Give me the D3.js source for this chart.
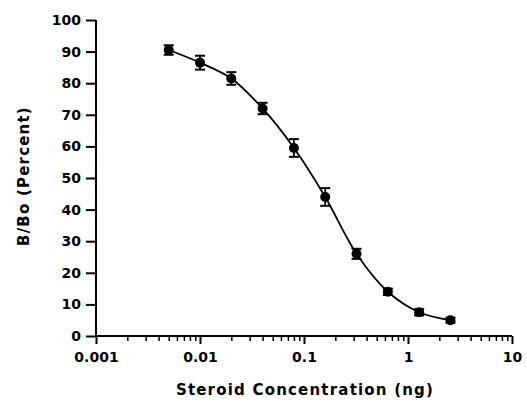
<!DOCTYPE html>
<html>
<head>
<meta charset="utf-8">
<script src="https://cdn.jsdelivr.net/npm/d3@7"></script>
<style>
  html, body { margin: 0; padding: 0; background: #fff; }
  svg { display: block; }
  text { font-family: "DejaVu Sans", sans-serif; font-weight: bold; fill: #000; }
</style>
</head>
<body>
<svg id="chart" width="527" height="402"></svg>
<script>
// Data
const concentrations = [0.005, 0.01, 0.02, 0.04, 0.08, 0.16, 0.32, 0.64, 1.28, 2.56];
const bbo = [90.5, 86.5, 81.5, 72, 59.5, 44, 26, 14, 7.5, 5];
const errors = [1.5, 2.2, 2.0, 1.8, 2.8, 2.8, 1.6, 1.0, 1.0, 0.8];
const yTicks = [0, 10, 20, 30, 40, 50, 60, 70, 80, 90, 100];
const xTicks = [0.001, 0.01, 0.1, 1, 10];
const xTickLabels = ["0.001", "0.01", "0.1", "1", "10"];

const svg = d3.select("#chart");
const x = d3.scaleLog().domain([0.001, 10]).range([96, 512]);
const y = d3.scaleLinear().domain([0, 100]).range([336, 20]);

// Y axis
const yAxis = d3.axisLeft(y).tickValues(yTicks).tickSize(10).tickPadding(5).tickFormat(d3.format("d"));
const gy = svg.append("g").attr("transform", `translate(${x.range()[0]},0)`).call(yAxis);
gy.select(".domain").attr("stroke", "#000").attr("stroke-width", 2).attr("d", `M0,${y(100)}V${y(0)}`);
gy.selectAll(".tick line").attr("stroke", "#000").attr("stroke-width", 2);
gy.selectAll(".tick text").style("font-size", "14px").attr("font-family", null).attr("font-size", null);

// X axis minor ticks
const minor = [];
for (let e = -3; e < 1; e++) for (let m = 2; m <= 9; m++) minor.push(m * Math.pow(10, e));
const gxm = svg.append("g").attr("transform", `translate(0,${y(0)})`)
  .call(d3.axisBottom(x).tickValues(minor).tickSize(5).tickFormat(""));
gxm.select(".domain").remove();
gxm.selectAll(".tick line").attr("stroke", "#000").attr("stroke-width", 1.5);

// X axis major
const xAxis = d3.axisBottom(x).tickValues(xTicks).tickSize(8).tickPadding(8)
  .tickFormat((d, i) => xTickLabels[i]);
const gx = svg.append("g").attr("transform", `translate(0,${y(0)})`).call(xAxis);
gx.select(".domain").attr("stroke", "#000").attr("stroke-width", 2).attr("d", `M${x(0.001)},0H${x(10)}`);
gx.selectAll(".tick line").attr("stroke", "#000").attr("stroke-width", 2);
gx.selectAll(".tick text").style("font-size", "14px").attr("font-family", null).attr("font-size", null);

// Curve
const line = d3.line().x((d, i) => x(concentrations[i])).y(d => y(d)).curve(d3.curveCatmullRom.alpha(0.5));
svg.append("path").datum(bbo).attr("d", line).attr("fill", "none").attr("stroke", "#000").attr("stroke-width", 1.8);

// Error bars
const eb = svg.append("g");
bbo.forEach((v, i) => {
  const cx = x(concentrations[i]);
  const y1 = y(v + errors[i]), y2 = y(v - errors[i]);
  eb.append("line").attr("x1", cx).attr("x2", cx).attr("y1", y1).attr("y2", y2).attr("stroke", "#000").attr("stroke-width", 1.8);
  [y1, y2].forEach(yy => eb.append("line").attr("x1", cx - 5).attr("x2", cx + 5).attr("y1", yy).attr("y2", yy).attr("stroke", "#000").attr("stroke-width", 2));
});

// Points
svg.append("g").selectAll("circle").data(bbo).join("circle")
  .attr("cx", (d, i) => x(concentrations[i])).attr("cy", d => y(d)).attr("r", 5).attr("fill", "#000");

// Axis titles
svg.append("text").attr("x", 305).attr("y", 395).attr("text-anchor", "middle")
  .style("font-size", "15px").style("letter-spacing", "1.2px").text("Steroid Concentration (ng)");
svg.append("text").attr("transform", "translate(29,176) rotate(-90)").attr("text-anchor", "middle")
  .style("font-size", "15px").style("letter-spacing", "1.2px").text("B/Bo (Percent)");
</script>
</body>
</html>
